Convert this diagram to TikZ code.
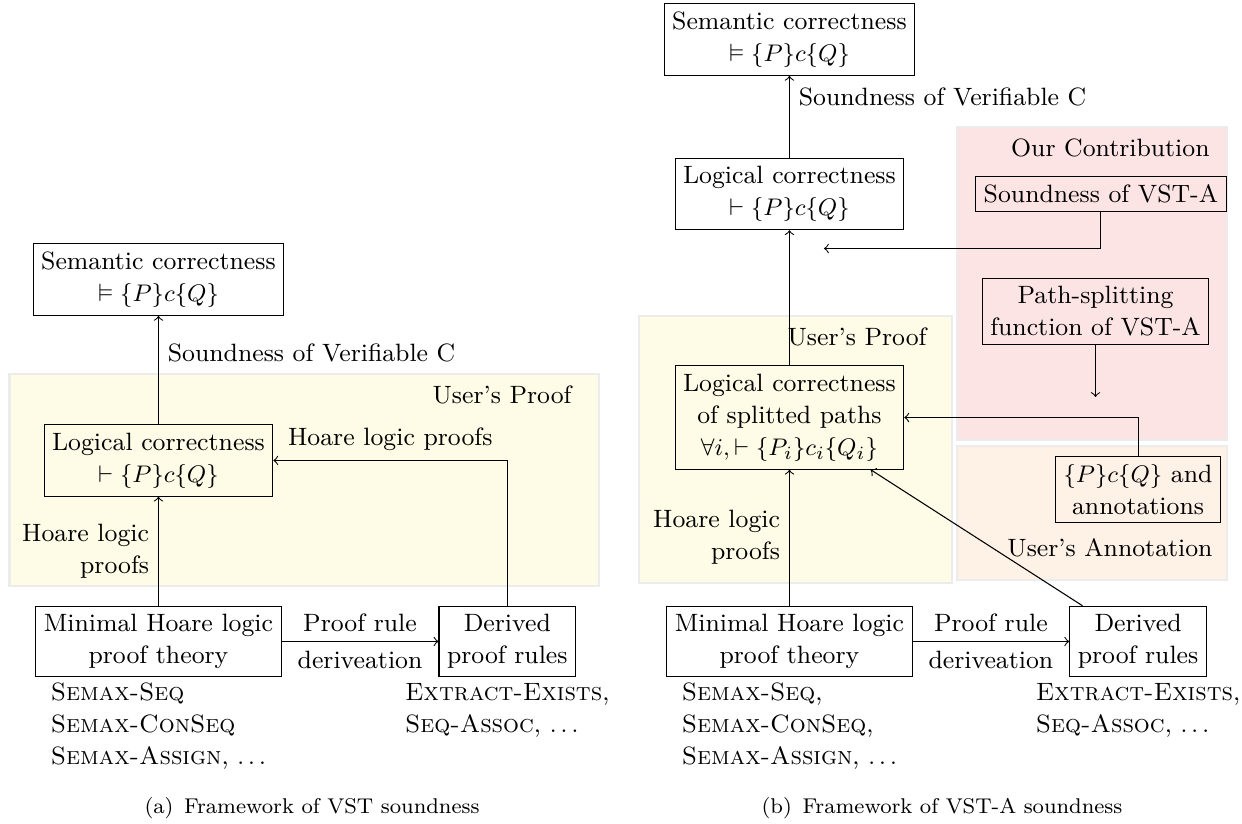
\documentclass[tikz,border=0pt]{standalone}
\usepackage{amsmath,amssymb}
\usepackage{xcolor}
\usetikzlibrary{positioning,arrows.meta,calc}

\definecolor{proofbg}{RGB}{254,251,230}
\definecolor{contribbg}{RGB}{253,228,228}
\definecolor{annotbg}{RGB}{254,241,230}
\definecolor{regionline}{RGB}{236,236,236}

\tikzset{
  stepbox/.style={draw, align=center, inner sep=3pt},
  userproof/.style={fill=proofbg, draw=regionline, line width=0.8pt},
  contrib/.style={fill=contribbg, draw=regionline, line width=0.8pt},
  annot/.style={fill=annotbg, draw=regionline, line width=0.8pt},
  rules/.style={align=left, inner sep=1pt},
  capt/.style={font=\fontsize{8pt}{9.5pt}\selectfont},
}

\begin{document}
\begin{tikzpicture}[font=\fontsize{9.4pt}{12pt}\selectfont, >=to]
    \useasboundingbox (0,0) rectangle (16.365,10.857);

    % (a) Framework of VST soundness
    \path[userproof] (0.125,3.136) rectangle (7.892,5.929);
    \node[anchor=east] (proofA) at (7.655,5.652) {User's Proof};

    \node[stepbox] (semA) at (2.088,7.174) {Semantic correctness\\$\vDash \{P\}c\{Q\}$};
    \node[stepbox] (logA) at (2.088,4.790) {Logical correctness\\$\vdash \{P\}c\{Q\}$};
    \node[stepbox] (minA) at (2.088,2.405) {Minimal Hoare logic\\proof theory};
    \node[stepbox] (derA) at (6.684,2.405) {Derived\\proof rules};
    \node[rules, below=1pt of minA] (semaxA) {\textsc{Semax-Seq}\\\textsc{Semax-ConSeq}\\\textsc{Semax-Assign}, $\ldots$};
    \node[rules, below=1pt of derA] (extractA) {\textsc{Extract-Exists},\\\textsc{Seq-Assoc}, $\ldots$};

    \draw[->] (logA) -- node[right, pos=0.66] {Soundness of Verifiable C} (semA);
    \draw[->] (minA) -- node[left, align=right] {Hoare logic\\proofs} (logA);
    \draw[->] (derA) |- node[above, pos=0.75] {Hoare logic proofs} (logA);
    \draw[->] (minA) -- node[above] {Proof rule} node[below] {deriveation} (derA);

    \node[capt] (captA) at (4.111,0.211) {(a)\hspace{0.5em}Framework of VST soundness};

    % (b) Framework of VST-A soundness
    \path[contrib] (12.609,5.060) rectangle (16.167,9.184);
    \path[annot] (12.609,3.215) rectangle (16.167,4.981);
    \path[userproof] (8.419,3.175) rectangle (12.544,6.693);
    \node[anchor=east] (contribB) at (16.062,8.907) {Our Contribution};
    \node[anchor=east] (proofB) at (12.333,6.417) {User's Proof};
    \node[anchor=east] (annotB) at (16.101,3.637) {User's Annotation};

    \node[stepbox] (semB) at (10.402,10.337) {Semantic correctness\\$\vDash \{P\}c\{Q\}$};
    \node[stepbox] (logB) at (10.402,8.301) {Logical correctness\\$\vdash \{P\}c\{Q\}$};
    \node[stepbox] (splitB) at (10.402,5.356) {Logical correctness\\of splitted paths\\$\forall i, \vdash \{P_i\}c_i\{Q_i\}$};
    \node[stepbox] (minB) at (10.402,2.405) {Minimal Hoare logic\\proof theory};
    \node[stepbox] (derB) at (14.995,2.405) {Derived\\proof rules};
    \node[stepbox] (vstaB) at (14.506,8.301) {Soundness of VST-A};
    \node[stepbox] (pathB) at (14.435,6.753) {Path-splitting\\function of VST-A};
    \node[stepbox] (hoareB) at (14.995,4.407) {$\{P\}c\{Q\}$ and\\annotations};
    \node[rules, below=1pt of minB] (semaxB) {\textsc{Semax-Seq},\\\textsc{Semax-ConSeq},\\\textsc{Semax-Assign}, $\ldots$};
    \node[rules, below=1pt of derB] (extractB) {\textsc{Extract-Exists},\\\textsc{Seq-Assoc}, $\ldots$};
    \coordinate (vstaEnd) at (10.857,7.583);
    \coordinate (pathEnd) at (14.435,5.626);

    \draw[->] (logB) -- node[right, pos=0.74] {Soundness of Verifiable C} (semB);
    \draw[->] (splitB) -- (logB);
    \draw[->] (vstaB) |- (vstaEnd);
    \draw[->] (pathB) -- (pathEnd);
    \draw[->] (hoareB) |- (splitB);
    \draw[->] (minB) -- node[left, align=right] {Hoare logic\\proofs} (splitB);
    \draw[->] (derB) -- (splitB);
    \draw[->] (minB) -- node[above] {Proof rule} node[below] {deriveation} (derB);

    \node[capt] (captB) at (12.412,0.211) {(b)\hspace{0.5em}Framework of VST-A soundness};
\end{tikzpicture}
\end{document}
